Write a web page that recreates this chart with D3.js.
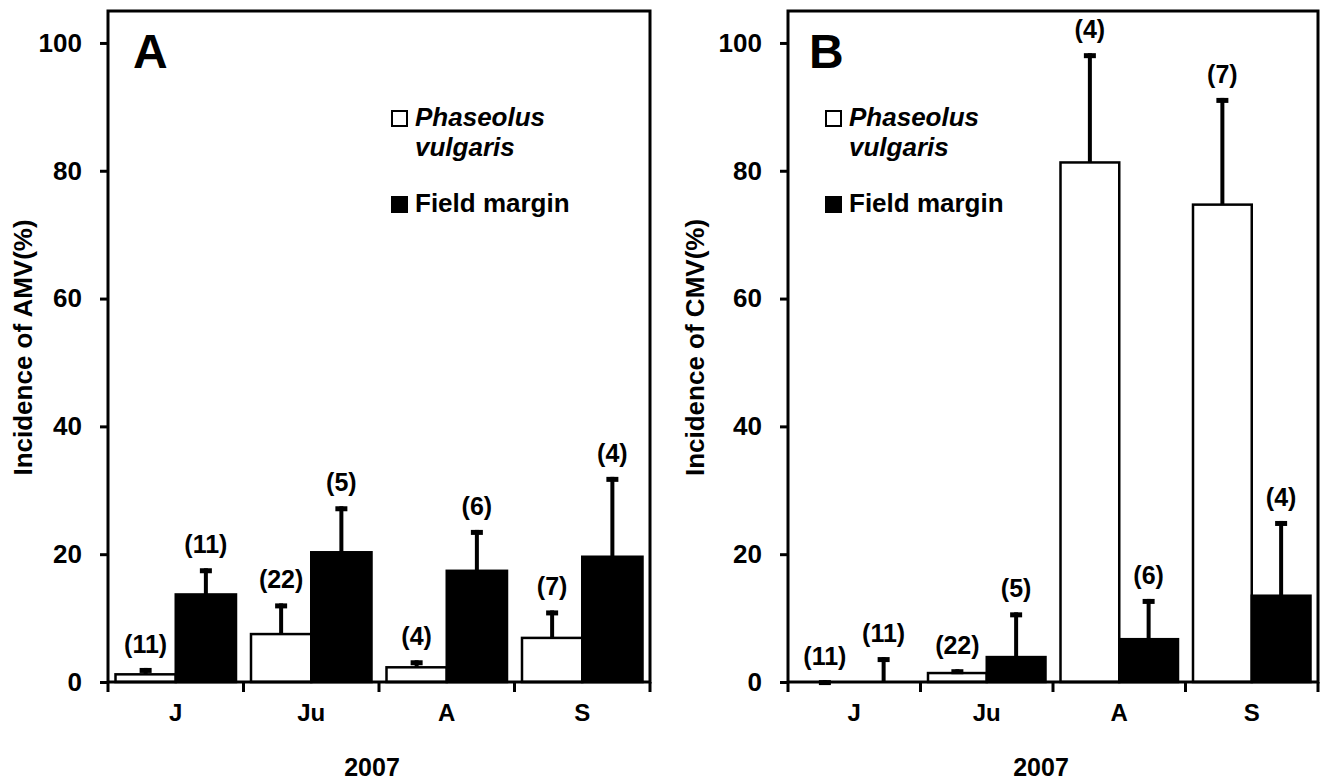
<!DOCTYPE html>
<html>
<head>
<meta charset="utf-8">
<script src="https://cdn.jsdelivr.net/npm/d3@7"></script>
<style>
  html, body { margin: 0; padding: 0; background: #fff; }
  svg { display: block; }
  text { font-family: "Liberation Sans", Arial, Helvetica, sans-serif; font-weight: bold; fill: #000; }
</style>
</head>
<body>
<div id="chart"></div>
<script>
// ---- Data ----
const months = ["J", "Ju", "A", "S"];
const seriesNames = ["Phaseolus vulgaris", "Field margin"];
const yTicks = [0, 20, 40, 60, 80, 100];
const xTitle = "2007";

// Panel A: AMV
const amvPhaseolus = [1.2, 7.5, 2.3, 6.9];
const amvPhaseolusErr = [1.0, 4.8, 1.1, 4.3];
const amvPhaseolusN = [11, 22, 4, 7];
const amvMargin = [13.7, 20.3, 17.4, 19.6];
const amvMarginErr = [4.1, 7.2, 6.4, 12.5];
const amvMarginN = [11, 5, 6, 4];

// Panel B: CMV
const cmvPhaseolus = [0, 1.4, 81.3, 74.7];
const cmvPhaseolusErr = [0.3, 0.6, 17.1, 16.7];
const cmvPhaseolusN = [11, 22, 4, 7];
const cmvMargin = [0, 3.9, 6.7, 13.5];
const cmvMarginErr = [3.9, 7.0, 6.3, 11.7];
const cmvMarginN = [11, 5, 6, 4];

// ---- Drawing ----
const W = 1320, H = 782;
const svg = d3.select("#chart").append("svg").attr("width", W).attr("height", H);

const panels = [
  { letter: "A", ylabel: "Incidence of AMV(%)", left: 108, right: 650, yLabelX: 32, yearX: 372, letterX: 133, legendX: 392,
    p: amvPhaseolus, pe: amvPhaseolusErr, pn: amvPhaseolusN, m: amvMargin, me: amvMarginErr, mn: amvMarginN },
  { letter: "B", ylabel: "Incidence of CMV(%)", left: 788, right: 1318, yLabelX: 704, yearX: 1041, letterX: 809, legendX: 826,
    p: cmvPhaseolus, pe: cmvPhaseolusErr, pn: cmvPhaseolusN, m: cmvMargin, me: cmvMarginErr, mn: cmvMarginN }
];

const plotTop = 11, plotBottom = 682;
const y = d3.scaleLinear().domain([0, 105]).range([plotBottom, plotTop]);

panels.forEach(cfg => {
  const g = svg.append("g");
  const x0 = d3.scaleBand().domain(months).range([cfg.left, cfg.right]).padding(0);
  const inset = 7.5;
  const x1 = d3.scaleBand().domain(["p", "m"]).range([inset, x0.bandwidth() - inset]).padding(0);

  const rows = months.map((mo, i) => ([
    { key: "p", month: mo, v: cfg.p[i], e: cfg.pe[i], n: cfg.pn[i] },
    { key: "m", month: mo, v: cfg.m[i], e: cfg.me[i], n: cfg.mn[i] }
  ])).flat();

  // bars
  g.selectAll("rect.bar").data(rows).join("rect")
    .attr("class", "bar")
    .attr("x", d => x0(d.month) + x1(d.key))
    .attr("y", d => y(d.v))
    .attr("width", x1.bandwidth())
    .attr("height", d => y(0) - y(d.v))
    .attr("fill", d => d.key === "p" ? "#fff" : "#000")
    .attr("stroke", "#000")
    .attr("stroke-width", 2.5);

  // error bars (upper)
  const cx = d => x0(d.month) + x1(d.key) + x1.bandwidth() / 2;
  g.selectAll("line.err").data(rows).join("line")
    .attr("class", "err")
    .attr("x1", cx).attr("x2", cx)
    .attr("y1", d => y(d.v)).attr("y2", d => y(d.v + d.e))
    .attr("stroke", "#000").attr("stroke-width", 4);
  g.selectAll("rect.cap").data(rows).join("rect")
    .attr("class", "cap")
    .attr("x", d => cx(d) - 6)
    .attr("y", d => y(d.v + d.e))
    .attr("width", 12).attr("height", 5)
    .attr("fill", "#000");

  // n labels
  g.selectAll("text.n").data(rows).join("text")
    .attr("class", "n")
    .attr("x", cx)
    .attr("y", d => y(d.v + d.e) - 15)
    .attr("text-anchor", "middle")
    .attr("font-size", 25)
    .text(d => "(" + d.n + ")");

  // frame
  g.append("rect")
    .attr("x", cfg.left).attr("y", plotTop)
    .attr("width", cfg.right - cfg.left).attr("height", plotBottom - plotTop)
    .attr("fill", "none").attr("stroke", "#000").attr("stroke-width", 3);

  // y axis
  const ya = g.append("g").attr("transform", `translate(${cfg.left},0)`)
    .call(d3.axisLeft(y).tickValues(yTicks).tickSize(8).tickPadding(18));
  ya.select(".domain").remove();
  ya.selectAll(".tick line").attr("stroke", "#000").attr("stroke-width", 3);
  ya.selectAll(".tick text").attr("font-size", 26).attr("font-family", null).attr("fill", "#000");

  // x axis labels
  const xa = g.append("g").attr("transform", `translate(0,${plotBottom})`)
    .call(d3.axisBottom(x0).tickSize(0).tickPadding(22));
  xa.select(".domain").remove();
  xa.selectAll(".tick text").attr("font-size", 24).attr("font-family", null).attr("fill", "#000");

  // boundary ticks
  const bounds = months.map(m => x0(m)).concat([cfg.right]);
  g.selectAll("line.bt").data(bounds).join("line")
    .attr("class", "bt")
    .attr("x1", d => d).attr("x2", d => d)
    .attr("y1", plotBottom).attr("y2", plotBottom + 10)
    .attr("stroke", "#000").attr("stroke-width", 3);

  // y label
  g.append("text")
    .attr("transform", `translate(${cfg.yLabelX},${(218 + 477) / 2}) rotate(-90)`)
    .attr("text-anchor", "middle")
    .attr("font-size", 26)
    .text(cfg.ylabel);

  // x title
  g.append("text")
    .attr("x", cfg.yearX).attr("y", 776)
    .attr("text-anchor", "middle")
    .attr("font-size", 25)
    .text(xTitle);

  // panel letter
  g.append("text")
    .attr("x", cfg.letterX).attr("y", 68)
    .attr("font-size", 48)
    .text(cfg.letter);

  // legend
  const lg = g.append("g");
  lg.append("rect").attr("x", cfg.legendX).attr("y", 111).attr("width", 15).attr("height", 15)
    .attr("fill", "#fff").attr("stroke", "#000").attr("stroke-width", 2);
  const words = seriesNames[0].split(" ");
  lg.append("text").attr("x", cfg.legendX + 23).attr("y", 126).attr("font-size", 26)
    .attr("font-style", "italic").text(words[0]);
  lg.append("text").attr("x", cfg.legendX + 23).attr("y", 156).attr("font-size", 26)
    .attr("font-style", "italic").text(words[1]);
  lg.append("rect").attr("x", cfg.legendX).attr("y", 197).attr("width", 15).attr("height", 15)
    .attr("fill", "#000").attr("stroke", "#000").attr("stroke-width", 2);
  lg.append("text").attr("x", cfg.legendX + 23).attr("y", 212).attr("font-size", 26)
    .text(seriesNames[1]);
});
</script>
</body>
</html>
